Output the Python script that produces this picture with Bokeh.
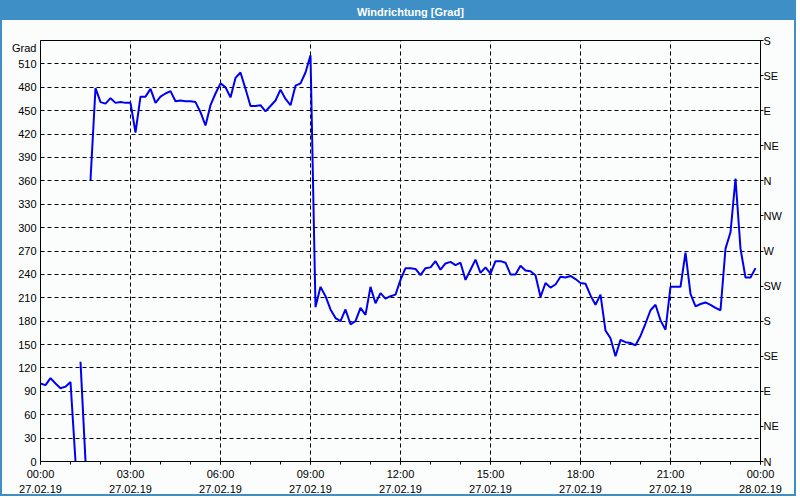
import numpy as np
from bokeh.plotting import figure
from bokeh.models import Range1d, LinearAxis, FixedTicker
from bokeh.embed import file_html
from bokeh.resources import INLINE

# Wind direction [deg], one sample every 10 minutes from 27.02.19 00:00
direction = [
    100, 98, 107, 100, 94, 96, 102, 0, 128, 0,
    361, 479, 461, 459, 466, 460, 461, 460, 460, 422,
    468, 468, 478, 460, 468, 472, 475, 462, 463, 462,
    462, 461, 448, 431, 457, 472, 485, 480, 467, 492,
    499, 478, 456, 456, 457, 449, 456, 463, 477, 465,
    457, 482, 485, 499, 521, 198, 224, 212, 195, 184,
    180, 195, 176, 180, 197, 188, 224, 203, 216, 209,
    212, 214, 233, 248, 248, 247, 239, 248, 249, 257,
    246, 254, 256, 252, 255, 233, 246, 259, 242, 249,
    241, 257, 257, 255, 240, 240, 251, 245, 244, 239,
    211, 229, 223, 227, 237, 236, 238, 234, 229, 228,
    213, 201, 214, 168, 158, 135, 156, 153, 152, 149,
    161, 177, 194, 201, 181, 169, 224, 224, 224, 268,
    215, 199, 202, 204, 201, 197, 194, 273, 294, 363,
    273, 236, 236, 248,
]
# indices where the drawn line restarts (wrap-around jumps)
segment_starts = [0, 8, 10]

sample_minutes = np.arange(len(direction)) * 10
hours = sample_minutes / 60.0

left_ticks = list(range(0, 511, 30))
right_ticks = list(range(0, 541, 45))
right_labels = ["N", "NE", "E", "SE", "S", "SW", "W", "NW", "N", "NE", "E", "SE", "S"]
time_ticks = [0, 3, 6, 9, 12, 15, 18, 21, 24]
time_labels = ["00:00\n27.02.19", "03:00\n27.02.19", "06:00\n27.02.19", "09:00\n27.02.19",
               "12:00\n27.02.19", "15:00\n27.02.19", "18:00\n27.02.19", "21:00\n27.02.19",
               "00:00\n28.02.19"]
minor_time_ticks = list(range(0, 25))

title_text = "Windrichtung [Grad]"
unit_text = "Grad"

BAND = "#3d8fc6"
BG = "#fbfdfd"
FONT = "Liberation Sans"
TITLE_POS = 12.33   # hours, horizontal centre of the title
UNIT_POS = 531      # degrees, vertical centre of the unit text

p = figure(width=796, height=496, x_range=Range1d(0, 24), y_range=Range1d(0, 540),
           output_backend="svg", toolbar_location=None, title=None)
p.styles = {"border": f"2px solid {BAND}",
            "background": f"linear-gradient(to bottom, {BAND} 0px, {BAND} 18px, {BG} 18px)"}
p.border_fill_color = None
p.background_fill_color = BG
p.outline_line_color = "black"
p.outline_line_width = 1
p.min_border_left = 38
p.min_border_right = 38
p.min_border_top = 38
p.min_border_bottom = 37

xs, ys = [], []
bounds = segment_starts + [len(direction)]
for a, b in zip(bounds[:-1], bounds[1:]):
    xs.append(list(hours[a:b]))
    ys.append(direction[a:b])
p.multi_line(xs, ys, line_color="#0000f0", line_width=2)

# bottom axis
xa = p.xaxis[0]
xa.ticker = FixedTicker(ticks=time_ticks, minor_ticks=minor_time_ticks)
xa.major_label_overrides = {t: l for t, l in zip(time_ticks, time_labels)}
xa.major_tick_in = 0
xa.major_tick_out = 3
xa.minor_tick_in = 0
xa.minor_tick_out = 3
xa.major_label_standoff = 3
xa.major_label_text_line_height = 1.3

# left axis (values + unit text)
ya = p.yaxis[0]
ya.ticker = FixedTicker(ticks=left_ticks + [UNIT_POS], minor_ticks=[])
ya.major_label_overrides = {UNIT_POS: unit_text}
ya.major_tick_in = 0
ya.major_tick_out = 0
ya.minor_tick_out = 0
ya.major_label_standoff = 4

# right axis (compass directions)
ra = LinearAxis(ticker=FixedTicker(ticks=right_ticks, minor_ticks=[]),
                major_label_overrides={t: l for t, l in zip(right_ticks, right_labels)})
ra.major_tick_in = 0
ra.major_tick_out = 3
ra.minor_tick_out = 0
ra.major_label_standoff = 0
p.add_layout(ra, "right")

for ax in [xa, ya, ra]:
    ax.axis_line_color = "black"
    ax.major_tick_line_color = "black"
    ax.minor_tick_line_color = "black"
    ax.major_label_text_font = FONT
    ax.major_label_text_font_size = "11px"
    ax.major_label_text_color = "black"

# title, drawn as the single label of an axis above the plot
ta = LinearAxis(ticker=FixedTicker(ticks=[TITLE_POS], minor_ticks=[]),
                major_label_overrides={TITLE_POS: title_text})
ta.axis_line_color = None
ta.major_tick_line_color = None
ta.minor_tick_line_color = None
ta.major_tick_in = 0
ta.major_tick_out = 0
ta.minor_tick_out = 0
ta.major_label_standoff = 23
ta.major_label_text_font = FONT
ta.major_label_text_font_size = "11px"
ta.major_label_text_font_style = "bold"
ta.major_label_text_color = "white"
p.add_layout(ta, "above")

p.xgrid.ticker = FixedTicker(ticks=time_ticks)
p.ygrid.ticker = FixedTicker(ticks=left_ticks)
for g in [p.xgrid[0], p.ygrid[0]]:
    g.grid_line_color = "black"
    g.grid_line_dash = "4 3"
    g.grid_line_width = 1

open("out.html", "w").write(file_html(p, INLINE))
